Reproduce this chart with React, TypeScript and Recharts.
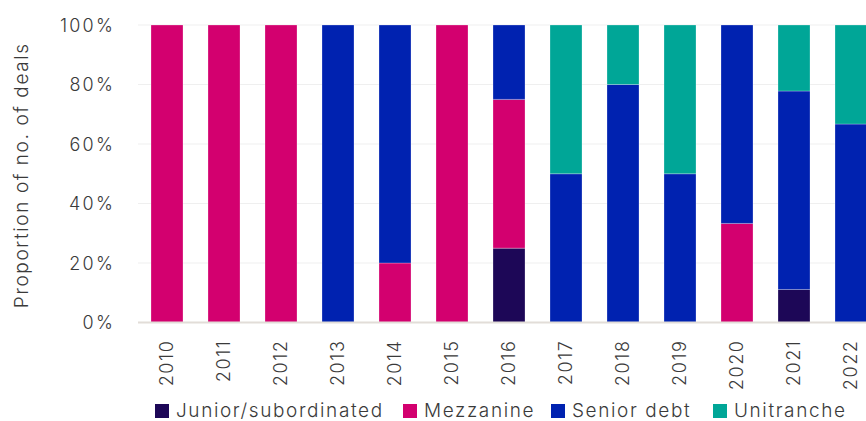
import React from 'react';
import { BarChart, Bar, XAxis, YAxis, CartesianGrid, Legend } from 'recharts';

const years = ['2010', '2011', '2012', '2013', '2014', '2015', '2016', '2017', '2018', '2019', '2020', '2021', '2022'];
const junior = [0, 0, 0, 0, 0, 0, 25, 0, 0, 0, 0, 11.1, 0];
const mezzanine = [100, 100, 100, 0, 20, 100, 50, 0, 0, 0, 33.3, 0, 0];
const senior = [0, 0, 0, 100, 80, 0, 25, 50, 80, 50, 66.7, 66.7, 66.7];
const unitranche = [0, 0, 0, 0, 0, 0, 0, 50, 20, 50, 0, 22.2, 33.3];
const yTicks = [0, 20, 40, 60, 80, 100];

const SERIES = [
  { key: 'junior', name: 'Junior/subordinated', color: '#1d0757', width: 248 },
  { key: 'mezzanine', name: 'Mezzanine', color: '#d3006f', width: 148 },
  { key: 'senior', name: 'Senior debt', color: '#0022b0', width: 162 },
  { key: 'unitranche', name: 'Unitranche', color: '#00a697', width: 150 },
];

const data = years.map((year, i) => ({
  year,
  junior: junior[i],
  mezzanine: mezzanine[i],
  senior: senior[i],
  unitranche: unitranche[i],
}));

const FONT = 'Inter, sans-serif';
const TEXT = '#3a3a3a';

const YearTick: React.FC<any> = ({ x, y, payload }) => (
  <text
    x={x}
    y={y}
    transform={`rotate(-90, ${x}, ${y})`}
    textAnchor="end"
    dominantBaseline="central"
    fontFamily={FONT}
    fontWeight={300}
    fontSize={18}
    letterSpacing={1.6}
    fill={TEXT}
  >
    {payload.value}
  </text>
);

const PercentTick: React.FC<any> = ({ x, y, payload }) => (
  <text
    x={x}
    y={y}
    textAnchor="end"
    dominantBaseline="central"
    fontFamily={FONT}
    fontWeight={300}
    fontSize={18}
    letterSpacing={2.2}
    fill={TEXT}
  >
    {`${payload.value}%`}
  </text>
);

const YLabel: React.FC<any> = ({ viewBox }) => {
  const cy = viewBox.y + viewBox.height / 2 + 1.5;
  return (
    <text
      x={21}
      y={cy}
      transform={`rotate(-90, 21, ${cy})`}
      textAnchor="middle"
      dominantBaseline="central"
      fontFamily={FONT}
      fontWeight={300}
      fontSize={19}
      letterSpacing={1.6}
      fill={TEXT}
    >
      Proportion of no. of deals
    </text>
  );
};

const LegendContent: React.FC<any> = () => (
  <div style={{ display: 'flex', alignItems: 'center', fontFamily: FONT, fontWeight: 300, fontSize: 19, lineHeight: '23px', letterSpacing: 1.6, color: TEXT, whiteSpace: 'nowrap' }}>
    {SERIES.map(s => (
      <div key={s.key} style={{ display: 'flex', alignItems: 'center', width: s.width }}>
        <span style={{ display: 'inline-block', width: 14, height: 14, background: s.color, marginRight: 7 }} />
        <span>{s.name}</span>
      </div>
    ))}
  </div>
);

export default function App() {
  return (
    <div style={{ position: 'absolute', left: 0, top: 0, width: 866, height: 421, overflow: 'hidden' }}>
      <BarChart width={879} height={421} data={data} margin={{ top: 25, right: 0, bottom: 0, left: 0 }}>
        <CartesianGrid vertical={false} stroke="#efefef" />
        <XAxis
          dataKey="year"
          height={72.5}
          tickLine={false}
          tickSize={0}
          tickMargin={17}
          axisLine={{ stroke: '#e2ddd8', strokeWidth: 2 }}
          tick={<YearTick />}
          interval={0}
        />
        <YAxis
          width={138}
          domain={[0, 100]}
          ticks={yTicks}
          axisLine={false}
          tickLine={false}
          tickSize={0}
          tickMargin={23}
          tick={<PercentTick />}
          label={<YLabel />}
        />
        <Legend
          verticalAlign="bottom"
          align="left"
          height={26}
          content={<LegendContent />}
          wrapperStyle={{ left: 155, bottom: 'auto', top: 399, width: 'auto' }}
        />
        {SERIES.map(s => (
          <Bar
            key={s.key}
            dataKey={s.key}
            name={s.name}
            stackId="a"
            fill={s.color}
            barSize={32}
            stroke="#ffffff"
            strokeOpacity={0.25}
            strokeWidth={1}
            isAnimationActive={false}
          />
        ))}
      </BarChart>
    </div>
  );
}
